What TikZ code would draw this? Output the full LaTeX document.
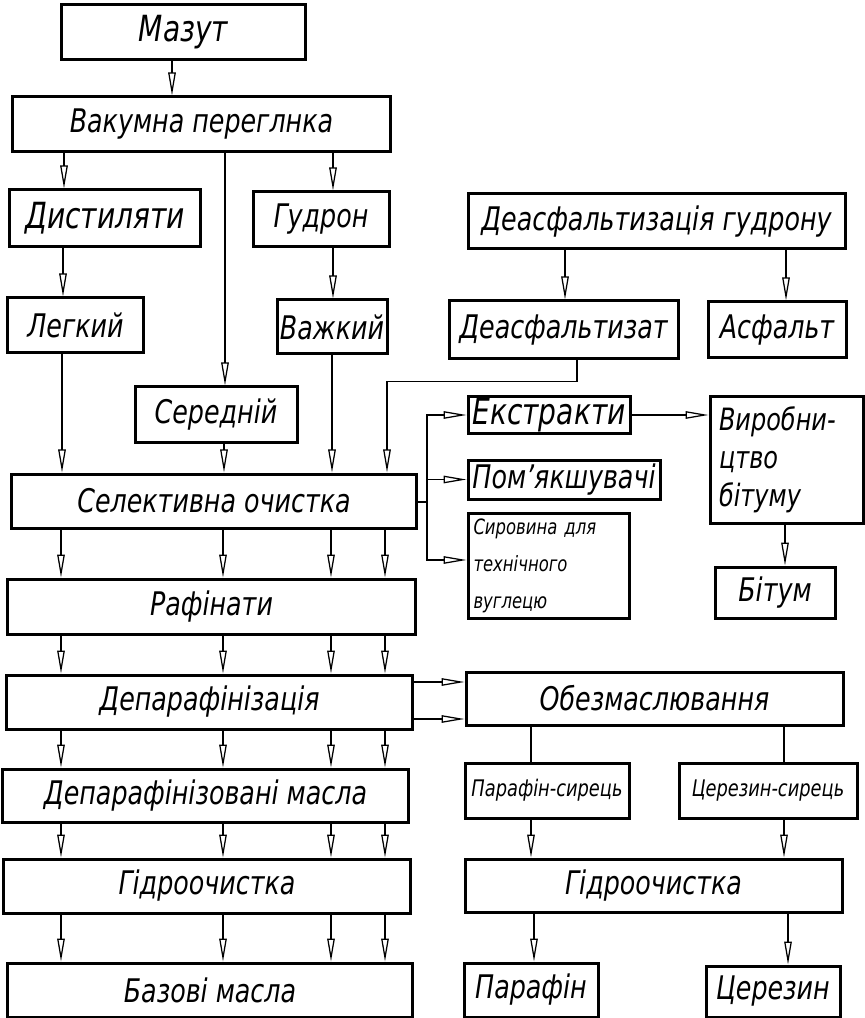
\documentclass[tikz,border=0pt]{standalone}
\usepackage{fontspec}
\setmainfont{DejaVu Sans}[FakeStretch=0.78]
\usetikzlibrary{arrows.meta,calc}
\tikzset{
  blk/.style  = {draw,line width=0.6mm,inner sep=0pt,
                 font=\itshape\fontsize{18.5}{22}\selectfont},
  big/.style  = {font=\itshape\fontsize{20.5}{24}\selectfont},
  sblk/.style = {blk,font=\itshape\fontsize{13}{16}\selectfont},
  arr/.style  = {-{Triangle[open,length=4.6mm,width=1.5mm]},line width=0.25mm},
  ln/.style   = {line width=0.25mm},
}

\begin{document}
\begin{tikzpicture}[x=0.2mm,y=-0.2mm]
  \useasboundingbox (0,0) rectangle (864,1018);
  \node[blk,big,minimum width=48.6mm,minimum height=11mm] (maz) at (183.5,32.5) {Мазут};
  \node[blk,minimum width=75.4mm,minimum height=11mm] (vak) at (201.5,124.5) {Вакумна переглнка};
  \node[blk,big,minimum width=38mm,minimum height=11.4mm] (dist) at (105,218.5) {Дистиляти};
  \node[blk,minimum width=27.2mm,minimum height=11mm] (gud) at (321,219.5) {Гудрон};
  \node[blk,minimum width=75.4mm,minimum height=11mm] (dgud) at (656.5,221.5) {Деасфальтизація гудрону};
  \node[blk,minimum width=27mm,minimum height=11mm] (leg) at (75.5,325.5) {Легкий};
  \node[blk,minimum width=22mm,minimum height=10.8mm] (vaz) at (332,327) {Важкий};
  \node[blk,minimum width=45.8mm,minimum height=11.6mm] (dfz) at (563.5,330) {Деасфальтизат};
  \node[blk,minimum width=27.6mm,minimum height=11.2mm] (asf) at (777,330) {Асфальт};
  \node[blk,minimum width=32.4mm,minimum height=11mm] (ser) at (216,414.5) {Середній};
  \node[blk,minimum width=80.8mm,minimum height=10.8mm] (sel) at (214,501) {Селективна очистка};
  \node[blk,big,minimum width=32.4mm,minimum height=7.2mm] (ext) at (549,415) {Екстракти};
  \node[blk,minimum width=38.4mm,minimum height=7.8mm] (pom) at (564,479.5) {Пом’якшувачі};
  \node[blk,minimum width=32.2mm,minimum height=21mm,text width=30mm,align=left,
        font=\itshape\fontsize{12}{21}\selectfont] (syr) at (548.5,565.5)
        {Сировина для\\технічного\\вуглецю};
  \node[blk,minimum width=30.6mm,minimum height=25.2mm,text width=27mm,align=left,
        font=\itshape\fontsize{17.5}{21.6}\selectfont] (vyr) at (786.5,460)
        {Виробни-\\цтво\\бітуму};
  \node[blk,minimum width=24mm,minimum height=10.2mm] (bit) at (775,592.5) {Бітум};
  \node[blk,minimum width=81.4mm,minimum height=11mm] (raf) at (211.5,606.5) {Рафінати};
  \node[blk,minimum width=81mm,minimum height=10.8mm] (dep) at (209.5,702) {Депарафінізація};
  \node[blk,minimum width=81mm,minimum height=10.6mm] (dmas) at (205.5,795.5) {Депарафінізовані масла};
  \node[blk,minimum width=81.2mm,minimum height=10.8mm] (gid) at (207,886) {Гідроочистка};
  \node[blk,minimum width=80.8mm,minimum height=10.8mm] (baz) at (210,990) {Базові масла};
  \node[blk,minimum width=75.4mm,minimum height=10.6mm] (obz) at (654.5,698.5) {Обезмаслювання};
  \node[sblk,minimum width=32.8mm,minimum height=11mm] (psyr) at (547,790.5) {Парафін-сирець};
  \node[sblk,minimum width=35.6mm,minimum height=11mm] (csyr) at (768,790.5) {Церезин-сирець};
  \node[blk,minimum width=75.4mm,minimum height=10.6mm] (gid2) at (653.5,885.5) {Гідроочистка};
  \node[blk,minimum width=26.8mm,minimum height=10.8mm] (par) at (531,990) {Парафін};
  \node[blk,minimum width=26.8mm,minimum height=10.2mm] (cer) at (773,991.5) {Церезин};

  \draw[arr] (maz.south -| 172,0) -- (vak.north -| 172,0);
  \draw[arr] (vak.south -| 64,0) -- (dist.north -| 64,0);
  \draw[arr] (vak.south -| 333,0) -- (gud.north -| 333,0);
  \draw[arr] (vak.south -| 225,0) -- (ser.north -| 225,0);
  \draw[arr] (dist.south -| 63,0) -- (leg.north -| 63,0);
  \draw[arr] (gud.south -| 333,0) -- (vaz.north -| 333,0);
  \draw[arr] (dgud.south -| 565,0) -- (dfz.north -| 565,0);
  \draw[arr] (dgud.south -| 786,0) -- (asf.north -| 786,0);
  \draw[arr] (leg.south -| 62,0) -- (sel.north -| 62,0);
  \draw[arr] (ser.south -| 224,0) -- (sel.north -| 224,0);
  \draw[arr] (vaz.south -| 332,0) -- (sel.north -| 332,0);
  \draw[arr] (dfz.south -| 577,0) -- ++(0,21) -| (sel.north -| 387,0);
  \foreach \a/\b in {sel/raf,raf/dep,dep/dmas,dmas/gid,gid/baz}{
    \foreach \x in {61,223,331,385}{
      \draw[arr] (\a.south -| \x,0) -- (\b.north -| \x,0);
    }
  }
  \coordinate (br) at (427,502);
  \draw[ln] (sel.east |- br) -- (br);
  \draw[arr] (br) |- (ext.west);
  \draw[arr] (br) |- (pom.west);
  \draw[arr] (br) |- (syr.west |- 0,560);
  \draw[arr] (ext.east) -- (vyr.west |- ext.east);
  \draw[arr] (vyr.south -| 785,0) -- (bit.north -| 785,0);
  \draw[arr] (dep.east |- 0,682) -- (obz.west |- 0,682);
  \draw[arr] (dep.east |- 0,719) -- (obz.west |- 0,719);
  \draw[ln] (obz.south -| 531,0) -- (psyr.north -| 531,0);
  \draw[ln] (obz.south -| 784,0) -- (csyr.north -| 784,0);
  \draw[arr] (psyr.south -| 531,0) -- (gid2.north -| 531,0);
  \draw[arr] (csyr.south -| 784,0) -- (gid2.north -| 784,0);
  \draw[arr] (gid2.south -| 534,0) -- (par.north -| 534,0);
  \draw[arr] (gid2.south -| 788,0) -- (cer.north -| 788,0);
\end{tikzpicture}
\end{document}
